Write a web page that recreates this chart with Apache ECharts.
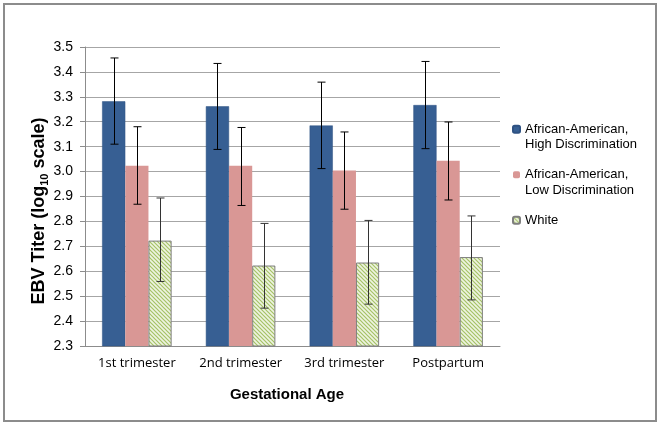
<!DOCTYPE html>
<html>
<head>
<meta charset="utf-8">
<script src="https://cdn.jsdelivr.net/npm/echarts@6/dist/echarts.min.js"></script>
<style>html,body{margin:0;padding:0;background:#fff}#c{width:663px;height:427px}</style>
</head>
<body>
<div id="c"></div>
<script>
const categories = ['1st trimester', '2nd trimester', '3rd trimester', 'Postpartum'];
const seriesNames = ['African-American,\nHigh Discrimination', 'African-American,\nLow Discrimination', 'White'];
const highDisc = [3.282, 3.262, 3.185, 3.267];
const highDiscLow = [3.110, 3.089, 3.012, 3.092];
const highDiscHigh = [3.456, 3.434, 3.359, 3.442];
const lowDisc = [3.023, 3.023, 3.004, 3.043];
const lowDiscLow = [2.869, 2.864, 2.849, 2.886];
const lowDiscHigh = [3.180, 3.177, 3.159, 3.199];
const white = [2.723, 2.623, 2.635, 2.657];
const whiteLow = [2.559, 2.452, 2.468, 2.485];
const whiteHigh = [2.894, 2.792, 2.804, 2.822];
const yMin = 2.3, yMax = 3.5, yStep = 0.1;

// hatch pattern for the White series
const pc = document.createElement('canvas');
pc.width = 4; pc.height = 4;
const pctx = pc.getContext('2d');
pctx.fillStyle = '#EEF4E1';
pctx.fillRect(0, 0, 4, 4);
pctx.strokeStyle = '#A5C266';
pctx.lineWidth = 1.2;
pctx.beginPath();
pctx.moveTo(-1, -1); pctx.lineTo(5, 5);
pctx.moveTo(-1, 3); pctx.lineTo(1, 5);
pctx.moveTo(3, -1); pctx.lineTo(5, 1);
pctx.stroke();

const gapRatio = 0.33;
function errSeries(k, lows, highs, color) {
  return {
    type: 'custom',
    z: 10,
    silent: true,
    data: categories.map((c, i) => [i, lows[i], highs[i]]),
    encode: { x: 0, y: [1, 2] },
    renderItem: function (params, api) {
      const i = api.value(0);
      const lo = api.coord([i, api.value(1)]);
      const hi = api.coord([i, api.value(2)]);
      const band = api.size([1, 0])[0];
      const bw = band * (1 - gapRatio) / 3;
      const x = Math.round(lo[0] + (k - 1) * bw) + 0.5;
      const cap = 4;
      const st = { stroke: color, lineWidth: 1 };
      return {
        type: 'group',
        children: [
          { type: 'line', shape: { x1: x, y1: hi[1], x2: x, y2: lo[1] }, style: st },
          { type: 'line', shape: { x1: x - cap, y1: hi[1], x2: x + cap, y2: hi[1] }, style: st },
          { type: 'line', shape: { x1: x - cap, y1: lo[1], x2: x + cap, y2: lo[1] }, style: st }
        ]
      };
    }
  };
}

const chart = echarts.init(document.getElementById('c'), null, { renderer: 'canvas' });
chart.setOption({
  animation: false,
  backgroundColor: '#fff',
  grid: { left: 85, right: 163, top: 47, bottom: 81 },
  legend: {
    orient: 'vertical',
    left: 512,
    top: 106,
    padding: 0,
    itemWidth: 7,
    itemHeight: 7,
    itemGap: -1,
    selectedMode: false,
    formatter: name => name.indexOf('\n') >= 0 ? '\n' + name : name,
    textStyle: { fontFamily: 'Liberation Sans, Arial', fontSize: 13, color: '#000', lineHeight: 15.5 },
    data: [
      { name: seriesNames[0] },
      { name: seriesNames[1] },
      { name: seriesNames[2], textStyle: { padding: [15.5, 0, 15.5, 0] } }
    ]
  },
  xAxis: {
    type: 'category',
    data: categories,
    axisLine: { lineStyle: { color: '#8c8c8c' } },
    axisTick: { show: false },
    axisLabel: { fontFamily: 'Open Sans', fontSize: 13, color: '#000', margin: 11, interval: 0 },
    name: 'Gestational Age',
    nameLocation: 'middle',
    nameGap: 41,
    nameTextStyle: { fontFamily: 'Liberation Sans, Arial', fontWeight: 'bold', fontSize: 15, color: '#000', padding: [0, 11, 0, 0] }
  },
  yAxis: {
    type: 'value',
    min: yMin, max: yMax, interval: yStep,
    axisLine: { show: true, lineStyle: { color: '#8c8c8c' } },
    axisTick: { show: true, length: 5, lineStyle: { color: '#8c8c8c' } },
    axisLabel: { fontFamily: 'Liberation Sans, Arial', fontSize: 14, color: '#000', margin: 12, formatter: v => v.toFixed(1) },
    splitLine: { lineStyle: { color: '#a6a6a6' } }
  },
  graphic: [
    { type: 'rect', shape: { x: 4, y: 4, width: 652, height: 417 }, style: { fill: 'none', stroke: '#8c8c8c', lineWidth: 2 }, z: 100 },
    {
      type: 'text', x: 39, y: 211, rotation: Math.PI / 2,
      style: {
        text: '{a|EBV Titer (log}{b|10}{a| scale)}',
        align: 'center', verticalAlign: 'middle',
        rich: {
          a: { fontFamily: 'Liberation Sans, Arial', fontWeight: 'bold', fontSize: 18, lineHeight: 22, fill: '#000', verticalAlign: 'middle' },
          b: { fontFamily: 'Liberation Sans, Arial', fontWeight: 'bold', fontSize: 11, lineHeight: 11, fill: '#000', verticalAlign: 'bottom' }
        }
      }
    }
  ],
  series: [
    { name: seriesNames[0], type: 'bar', data: highDisc, barGap: '0%', barCategoryGap: '33%',
      itemStyle: { color: '#375F93', borderColor: '#2F5283', borderWidth: 0.5 } },
    { name: seriesNames[1], type: 'bar', data: lowDisc, barGap: '0%', barCategoryGap: '33%',
      itemStyle: { color: '#D99795' } },
    { name: seriesNames[2], type: 'bar', data: white, barGap: '0%', barCategoryGap: '33%',
      itemStyle: { color: { image: pc, repeat: 'repeat' }, borderColor: '#7F7F7F', borderWidth: 1 } },
    errSeries(0, highDiscLow, highDiscHigh, '#000'),
    errSeries(1, lowDiscLow, lowDiscHigh, '#000'),
    errSeries(2, whiteLow, whiteHigh, '#333')
  ]
});
</script>
</body>
</html>
